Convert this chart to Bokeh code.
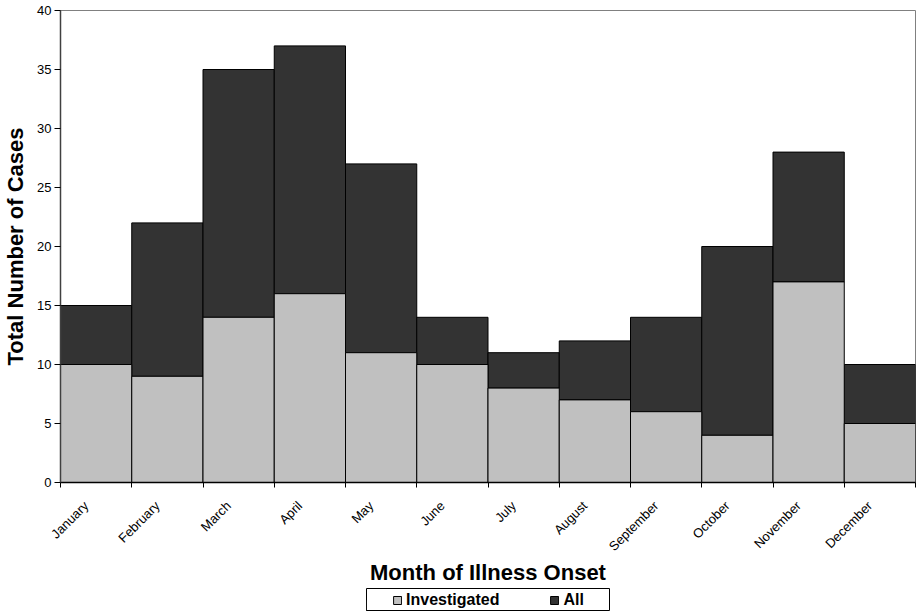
from math import pi

from bokeh.embed import file_html
from bokeh.layouts import column, row
from bokeh.models import (ColumnDataSource, FixedTicker, Legend, LegendItem,
                          LinearAxis, Range1d, Spacer)
from bokeh.plotting import figure
from bokeh.resources import INLINE

# Monthly case counts by month of illness onset
months = ["January", "February", "March", "April", "May", "June", "July",
          "August", "September", "October", "November", "December"]
investigated = [10, 9, 14, 16, 11, 10, 8, 7, 6, 4, 17, 5]
all_cases = [15, 22, 35, 37, 27, 14, 11, 12, 14, 20, 28, 10]
series_names = ["Investigated", "All"]

FONT = "Liberation Sans"
LIGHT = "#C0C0C0"
DARK = "#333333"

src = ColumnDataSource(dict(
    x=[i + 0.5 for i in range(len(months))],
    inv=investigated,
    tot=all_cases,
))

p = figure(width=916, height=588, output_backend="svg", toolbar_location=None,
           x_range=Range1d(0, 12), y_range=Range1d(0, 40),
           x_axis_type=None, y_axis_type=None,
           min_border_left=59, min_border_right=1, min_border_top=10,
           min_border_bottom=104)
p.outline_line_color = "#808080"
p.outline_line_width = 1
p.grid.visible = False
p.background_fill_color = "white"
p.border_fill_color = "white"

# Dark part spans from the investigated count up to the total
p.vbar(x="x", width=1, bottom="inv", top="tot", source=src,
       fill_color=DARK, line_color="black", line_width=1)
p.vbar(x="x", width=1, bottom=0, top="inv", source=src,
       fill_color=LIGHT, line_color="black", line_width=1)

# y axis
yax = LinearAxis(ticker=FixedTicker(ticks=list(range(0, 41, 5))))
yax.axis_label = "Total Number of Cases"
yax.axis_label_text_font = FONT
yax.axis_label_text_font_style = "bold"
yax.axis_label_text_font_size = "22px"
yax.axis_label_text_color = "black"
yax.axis_label_standoff = 6
yax.major_label_text_font = FONT
yax.major_label_text_font_size = "13px"
yax.major_label_text_color = "black"
yax.major_label_standoff = 3
yax.major_tick_in = 0
yax.major_tick_out = 6
yax.major_tick_line_color = "black"
yax.minor_tick_line_color = None
yax.axis_line_color = "#404040"
yax.axis_line_width = 1.5
p.add_layout(yax, "left")

# x axis: month labels near each month's centre, tick marks at boundaries
label_pos = [round(i + 0.36, 2) for i in range(12)]
xax = LinearAxis(ticker=FixedTicker(ticks=label_pos,
                                    minor_ticks=list(range(13))))
xax.major_label_overrides = {v: m for v, m in zip(label_pos, months)}
xax.major_label_orientation = pi / 4
xax.major_label_text_font = FONT
xax.major_label_text_font_size = "13px"
xax.major_label_text_color = "black"
xax.major_label_standoff = 16
xax.major_tick_line_color = None
xax.major_tick_out = 0
xax.minor_tick_in = 0
xax.minor_tick_out = 5
xax.minor_tick_line_color = "black"
xax.axis_line_color = "black"
xax.axis_line_width = 1.5
xax.axis_label = "Month of Illness Onset"
xax.axis_label_text_font = FONT
xax.axis_label_text_font_style = "bold"
xax.axis_label_text_font_size = "22px"
xax.axis_label_text_color = "black"
xax.axis_label_standoff = -2
p.add_layout(xax, "below")

# Legend strip under the axis title, framed by its own outline
lg = figure(width=244, height=23, output_backend="svg", toolbar_location=None,
            x_range=Range1d(0, 1), y_range=Range1d(0, 1),
            x_axis_type=None, y_axis_type=None, min_border=0)
lg.grid.visible = False
lg.outline_line_color = "black"
lg.outline_line_width = 1
# swatch renderers sit outside the visible range; only their legend glyphs show
swatches = [lg.vbar(x=[-5], width=0.1, top=[0.5], fill_color=c,
                    line_color="black")
            for c in (LIGHT, DARK)]
legend = Legend(items=[LegendItem(label=n, renderers=[r])
                       for n, r in zip(series_names, swatches)],
                orientation="horizontal", location="center",
                border_line_color=None, background_fill_alpha=0,
                label_text_font=FONT, label_text_font_style="bold",
                label_text_font_size="16px", label_text_color="black",
                glyph_width=10, glyph_height=10, label_standoff=4,
                spacing=50, padding=0, margin=0, label_height=16)
lg.add_layout(legend, "center")

layout = column(p, row(Spacer(width=366, height=23), lg), spacing=0)

open("out.html", "w").write(file_html(layout, INLINE))
